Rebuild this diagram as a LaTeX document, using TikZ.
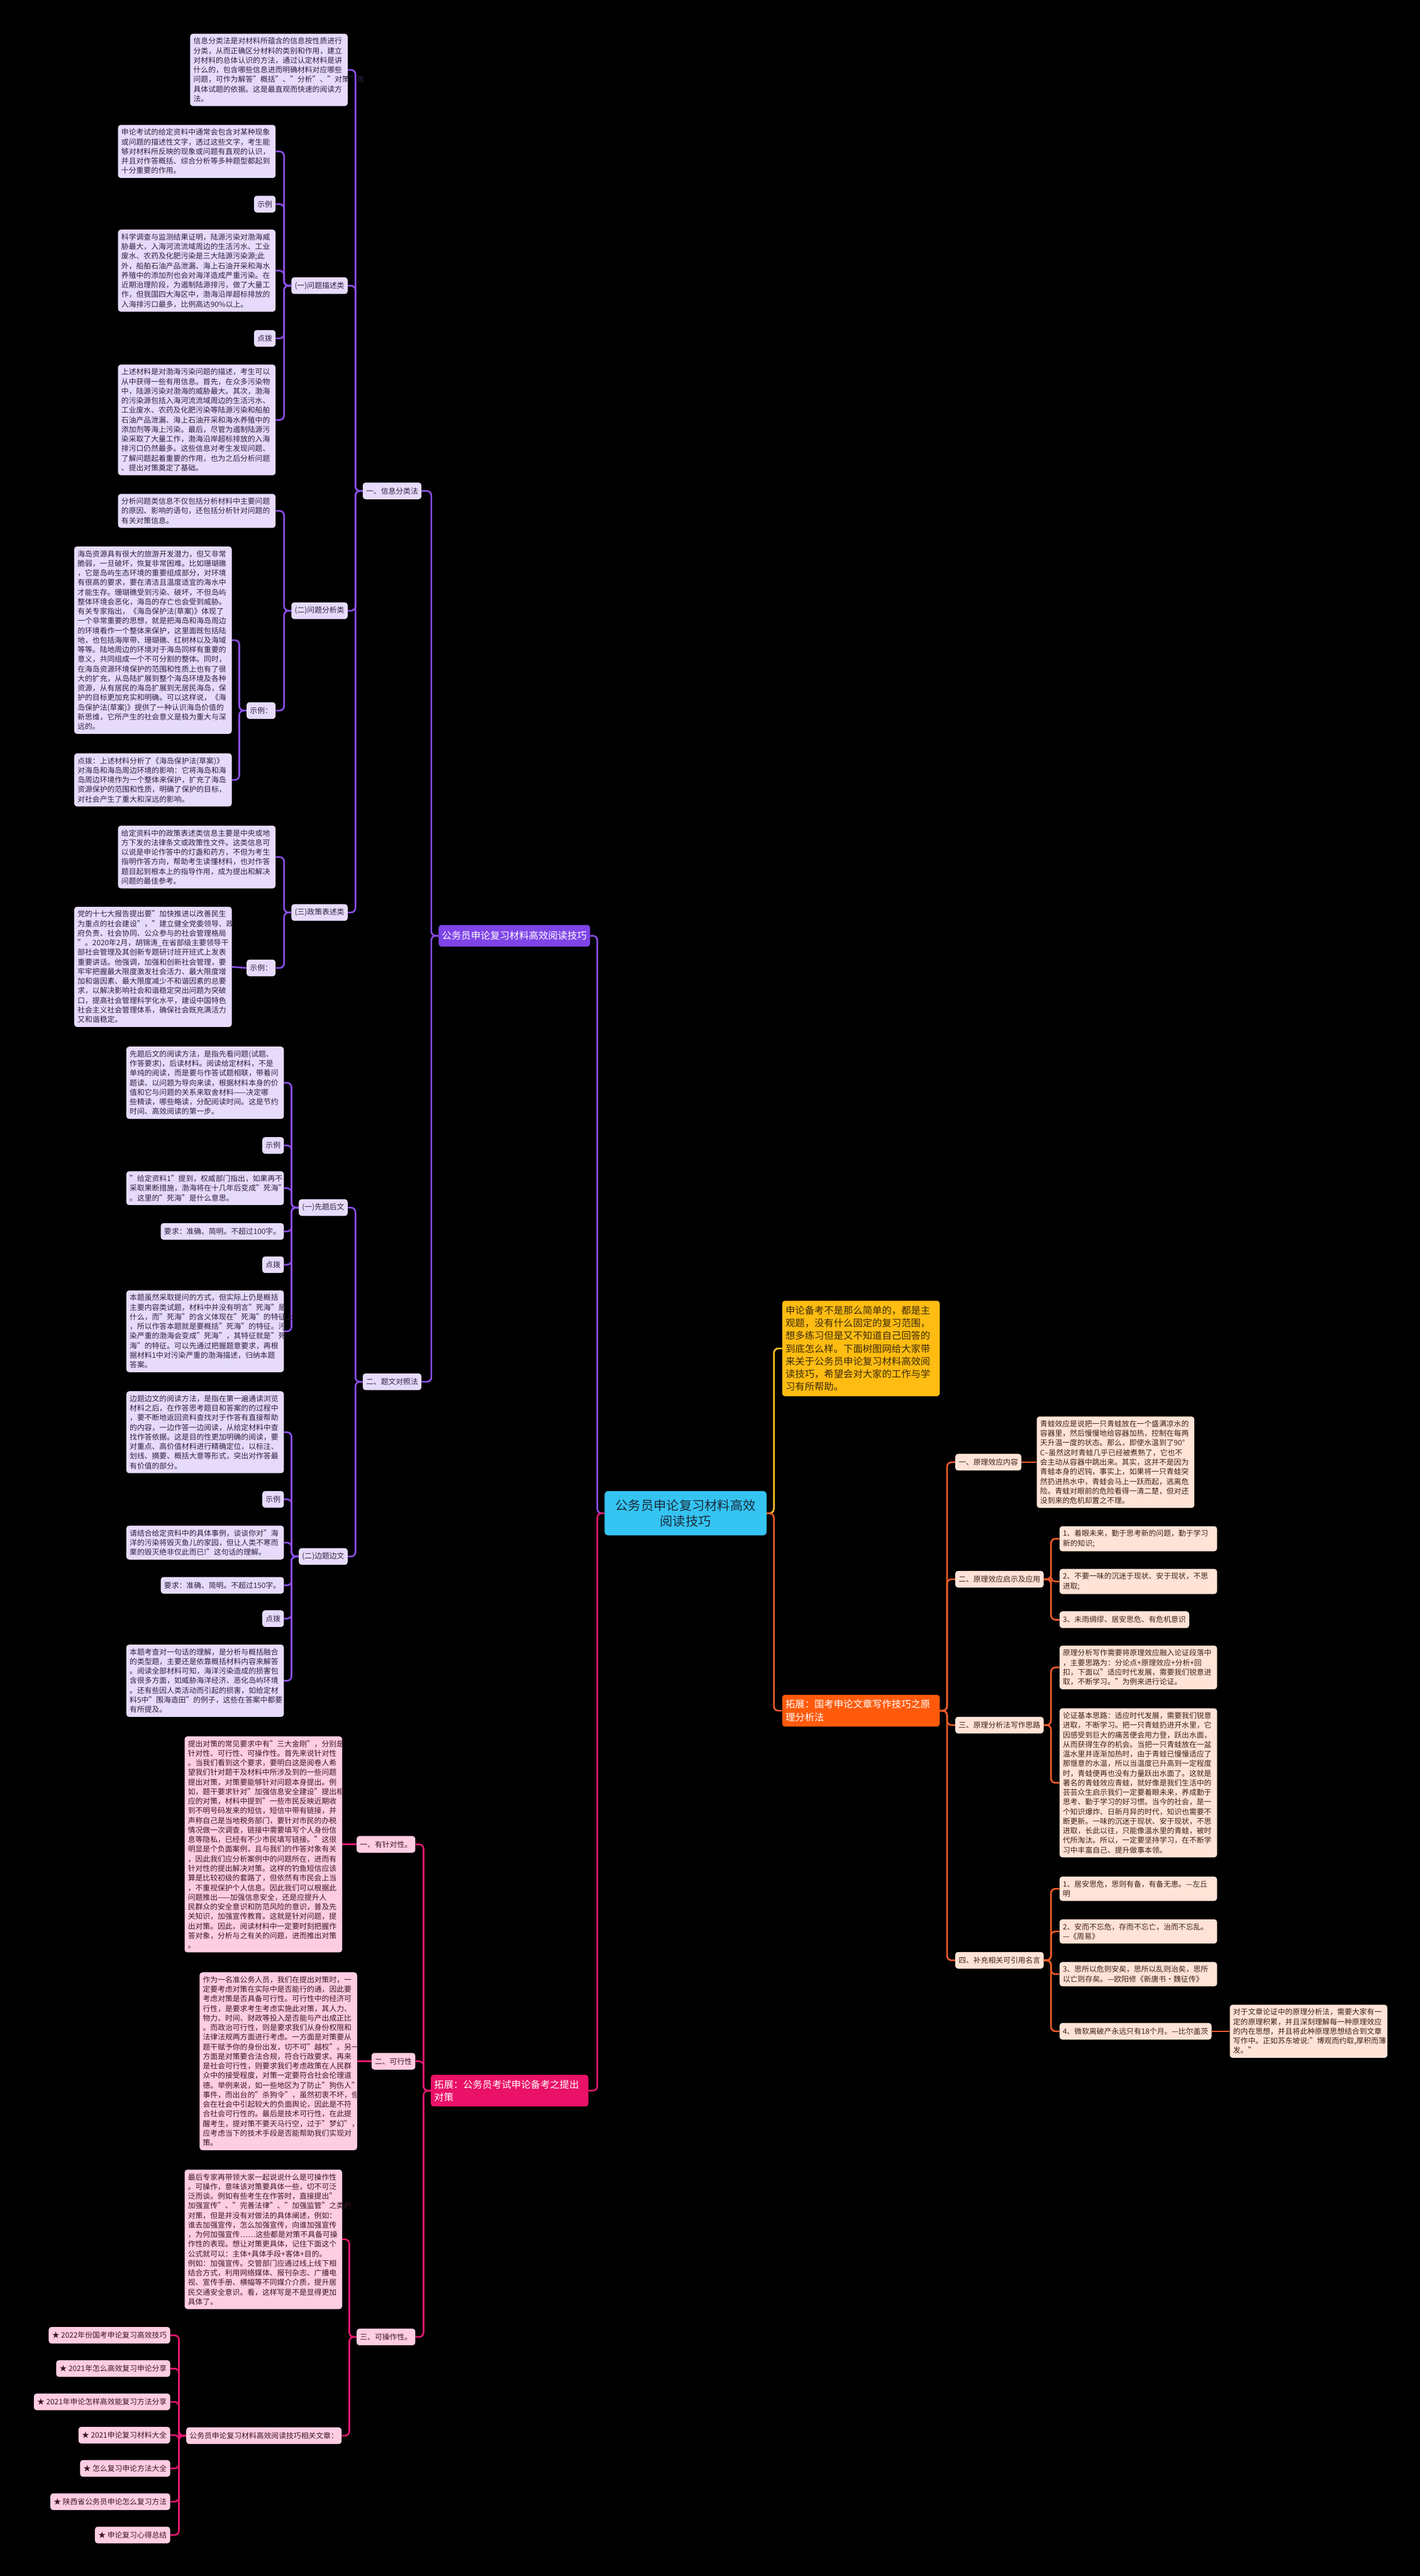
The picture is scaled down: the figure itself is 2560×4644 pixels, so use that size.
\documentclass[tikz,border=0pt]{standalone}
\usepackage{fontspec}
\setmainfont{Noto Sans CJK SC}
\usetikzlibrary{calc}
\pgfdeclarelayer{back}
\pgfdeclarelayer{lines}
\pgfsetlayers{back,lines,main}
\definecolor{pfill}{HTML}{E6DBFA}
\definecolor{ptext}{HTML}{2E2140}
\definecolor{pline}{HTML}{8B4FE6}
\definecolor{pmain}{HTML}{7E44E8}
\definecolor{kfill}{HTML}{FFCDE2}
\definecolor{ktext}{HTML}{3A1626}
\definecolor{kline}{HTML}{E3186F}
\definecolor{kmain}{HTML}{EA1168}
\definecolor{ofill}{HTML}{FFE3D6}
\definecolor{otext}{HTML}{3A2218}
\definecolor{oline}{HTML}{EB5B2A}
\definecolor{omain}{HTML}{FF5A0C}
\definecolor{yfill}{HTML}{FFBC12}
\definecolor{ytext}{HTML}{3A2A08}
\definecolor{yline}{HTML}{FFC425}
\definecolor{rootc}{HTML}{35C4F2}
\definecolor{roottext}{HTML}{1B2A3A}
\newcommand\myfs{\fontsize{13.4pt}{17.3pt}\selectfont}
\newcommand\myfm{\fontsize{17.4pt}{23pt}\selectfont}
\newcommand\myfr{\fontsize{23pt}{29pt}\selectfont}
\newcommand\lconn[3]{\draw[#1] (#2.west) -- ++(-13,0) |- (#3.east);}
\newcommand\rconn[3]{\draw[#1] (#2.east) -- ++(13,0) |- (#3.west);}
\tikzset{
 nbase/.style={rounded corners=5pt, inner xsep=6pt, inner ysep=7pt, font=\myfs},
 blk/.style={nbase, text width=272pt, align=left},
 lab/.style={nbase, minimum height=30pt, inner ysep=4pt},
 pu/.style={fill=pfill, text=ptext},
 pk/.style={fill=kfill, text=ktext},
 po/.style={fill=ofill, text=otext},
 conn/.style={line width=3pt, rounded corners=8pt},
 cp/.style={conn, draw=pline},
 ck/.style={conn, draw=kline},
 co/.style={conn, draw=oline},
 cy/.style={conn, draw=yline},
 bigbox/.style={nbase, inner ysep=9pt, font=\myfm, text width=272pt, align=left},
}
\begin{document}
\begin{tikzpicture}[x=1pt,y=-1pt]
\begin{pgfonlayer}{back}
\fill[black] (0,0) rectangle (2560,4644);
\end{pgfonlayer}
\useasboundingbox (0,0) rectangle (2560,4644);

% ---------- root ----------
\node[rounded corners=6pt, fill=rootc, text=roottext, font=\myfr, align=center, minimum width=292pt, minimum height=80pt] (R0) at (1236,2728) {公务员申论复习材料高效\\阅读技巧};

% ---------- purple branch ----------
\node[nbase, fill=pmain, text=white, font=\myfm, minimum height=39pt, anchor=east] (PM) at (1064,1687) {公务员申论复习材料高效阅读技巧};
\node[lab,pu,anchor=east] (L1) at (760,885) {一、信息分类法};
\node[lab,pu,anchor=east] (L2) at (760,2491) {二、题文对照法};

\node[blk,pu,anchor=east] (A1) at (627,126) {信息分类法是对材料所蕴含的信息按性质进行\\分类，从而正确区分材料的类别和作用，建立\\对材料的总体认识的方法，通过认定材料是讲\\什么的，包含哪些信息进而明确材料对应哪些\\问题，可作为解答"概括"、"分析"、"对策"等\\具体试题的依据。这是最直观而快速的阅读方\\法。};
\node[lab,pu,anchor=east] (Q1) at (627,515) {(一)问题描述类};
\node[blk,pu,anchor=east] (A2) at (497,273) {申论考试的给定资料中通常会包含对某种现象\\或问题的描述性文字，透过这些文字，考生能\\够对材料所反映的现象或问题有直观的认识，\\并且对作答概括、综合分析等多种题型都起到\\十分重要的作用。};
\node[lab,pu,anchor=east] (X1) at (497,368) {示例};
\node[blk,pu,anchor=east] (A3) at (497,488) {科学调查与监测结果证明，陆源污染对渤海威\\胁最大，入海河流流域周边的生活污水、工业\\废水、农药及化肥污染是三大陆源污染源;此\\外，船舶石油产品泄漏、海上石油开采和海水\\养殖中的添加剂也会对海洋造成严重污染。在\\近期治理阶段，为遏制陆源排污，做了大量工\\作，但我国四大海区中，渤海沿岸超标排放的\\入海排污口最多，比例高达90\%以上。};
\node[lab,pu,anchor=east] (T1) at (497,610) {点拨};
\node[blk,pu,anchor=east] (A4) at (497,757) {上述材料是对渤海污染问题的描述，考生可以\\从中获得一些有用信息。首先，在众多污染物\\中，陆源污染对渤海的威胁最大。其次，渤海\\的污染源包括入海河流流域周边的生活污水、\\工业废水、农药及化肥污染等陆源污染和船舶\\石油产品泄漏、海上石油开采和海水养殖中的\\添加剂等海上污染。最后，尽管为遏制陆源污\\染采取了大量工作，渤海沿岸超标排放的入海\\排污口仍然最多。这些信息对考生发现问题、\\了解问题起着重要的作用，也为之后分析问题\\、提出对策奠定了基础。};

\node[lab,pu,anchor=east] (Q2) at (627,1101) {(二)问题分析类};
\node[blk,pu,anchor=east] (B1) at (497,921) {分析问题类信息不仅包括分析材料中主要问题\\的原因、影响的语句，还包括分析针对问题的\\有关对策信息。};
\node[lab,pu,anchor=east] (X2) at (497,1281) {示例：};
\node[blk,pu,anchor=east] (B2) at (418,1154) {海岛资源具有很大的旅游开发潜力，但又非常\\脆弱，一旦破坏，恢复非常困难。比如珊瑚礁\\，它是岛屿生态环境的重要组成部分，对环境\\有很高的要求，要在清洁且温度适宜的海水中\\才能生存。珊瑚礁受到污染、破坏，不但岛屿\\整体环境会恶化，海岛的存亡也会受到威胁。\\有关专家指出，《海岛保护法(草案)》体现了\\一个非常重要的思想，就是把海岛和海岛周边\\的环境看作一个整体来保护，这里面既包括陆\\地，也包括海岸带、珊瑚礁、红树林以及海域\\等等。陆地周边的环境对于海岛同样有重要的\\意义，共同组成一个不可分割的整体。同时，\\在海岛资源环境保护的范围和性质上也有了很\\大的扩充，从岛陆扩展到整个海岛环境及各种\\资源，从有居民的海岛扩展到无居民海岛，保\\护的目标更加充实和明确。可以这样说，《海\\岛保护法(草案)》提供了一种认识海岛价值的\\新思维，它所产生的社会意义是极为重大与深\\远的。};
\node[blk,pu,anchor=east] (B3) at (418,1406) {点拨：上述材料分析了《海岛保护法(草案)》\\对海岛和海岛周边环境的影响：它将海岛和海\\岛周边环境作为一个整体来保护，扩充了海岛\\资源保护的范围和性质，明确了保护的目标，\\对社会产生了重大和深远的影响。};

\node[lab,pu,anchor=east] (Q3) at (627,1645) {(三)政策表述类};
\node[blk,pu,anchor=east] (B4) at (497,1545) {给定资料中的政策表述类信息主要是中央或地\\方下发的法律条文或政策性文件。这类信息可\\以说是申论作答中的灯盏和药方，不但为考生\\指明作答方向，帮助考生读懂材料，也对作答\\题目起到根本上的指导作用，成为提出和解决\\问题的最佳参考。};
\node[lab,pu,anchor=east] (X3) at (497,1745) {示例：};
\node[blk,pu,anchor=east] (B5) at (418,1743) {党的十七大报告提出要"加快推进以改善民生\\为重点的社会建设"，"建立健全党委领导、政\\府负责、社会协同、公众参与的社会管理格局\\"。2020年2月，胡锦涛\_在省部级主要领导干\\部社会管理及其创新专题研讨班开班式上发表\\重要讲话。他强调，加强和创新社会管理，要\\牢牢把握最大限度激发社会活力、最大限度增\\加和谐因素、最大限度减少不和谐因素的总要\\求，以解决影响社会和谐稳定突出问题为突破\\口，提高社会管理科学化水平，建设中国特色\\社会主义社会管理体系，确保社会既充满活力\\又和谐稳定。};

\node[lab,pu,anchor=east] (Q4) at (627,2177) {(一)先题后文};
\node[blk,pu,anchor=east] (C1) at (512,1952) {先题后文的阅读方法，是指先看问题(试题、\\作答要求)，后读材料。阅读给定材料，不是\\单纯的阅读，而是要与作答试题相联，带着问\\题读、以问题为导向来读，根据材料本身的价\\值和它与问题的关系来取舍材料——决定哪\\些精读，哪些略读，分配阅读时间。这是节约\\时间、高效阅读的第一步。};
\node[lab,pu,anchor=east] (X4) at (512,2065) {示例};
\node[blk,pu,anchor=east] (C2) at (512,2142) {"给定资料1"提到，权威部门指出，如果再不\\采取果断措施，渤海将在十几年后变成"死海"\\。这里的"死海"是什么意思。};
\node[lab,pu,anchor=east] (U1) at (512,2220) {要求：准确、简明。不超过100字。};
\node[lab,pu,anchor=east] (T4) at (512,2280) {点拨};
\node[blk,pu,anchor=east] (C3) at (512,2400) {本题虽然采取提问的方式，但实际上仍是概括\\主要内容类试题，材料中并没有明言"死海"是\\什么，而"死海"的含义体现在"死海"的特征上\\，所以作答本题就是要概括"死海"的特征。污\\染严重的渤海会变成"死海"，其特征就是"死\\海"的特征。可以先通过把握题意要求，再根\\据材料1中对污染严重的渤海描述，归纳本题\\答案。};

\node[lab,pu,anchor=east] (Q5) at (627,2806) {(二)边题边文};
\node[blk,pu,anchor=east] (D1) at (512,2582) {边题边文的阅读方法，是指在第一遍通读浏览\\材料之后，在作答思考题目和答案的的过程中\\，要不断地返回资料查找对于作答有直接帮助\\的内容，一边作答一边阅读，从给定材料中查\\找作答依据。这是目的性更加明确的阅读，要\\对重点、高价值材料进行精确定位，以标注、\\划线、摘要、概括大意等形式，突出对作答最\\有价值的部分。};
\node[lab,pu,anchor=east] (X5) at (512,2703) {示例};
\node[blk,pu,anchor=east] (D2) at (512,2781) {请结合给定资料中的具体事例，谈谈你对"海\\洋的污染将毁灭鱼儿的家园，但让人类不寒而\\栗的毁灭绝非仅此而已!"这句话的理解。};
\node[lab,pu,anchor=east] (U2) at (512,2858) {要求：准确、简明。不超过150字。};
\node[lab,pu,anchor=east] (T5) at (512,2918) {点拨};
\node[blk,pu,anchor=east] (D3) at (512,3030) {本题考查对一句话的理解，是分析与概括融合\\的类型题，主要还是依靠概括材料内容来解答\\。阅读全部材料可知，海洋污染造成的损害包\\含很多方面，如威胁海洋经济、恶化岛屿环境\\。还有些因人类活动而引起的损害，如给定材\\料5中"围海造田"的例子，这些在答案中都要\\有所提及。};

% ---------- pink branch ----------
\node[bigbox, fill=kmain, text=white, anchor=east] (PK) at (1061,3769) {拓展：公务员考试申论备考之提出\\对策};
\node[lab,pk,anchor=east] (K1) at (749,3325) {一、有针对性。};
\node[lab,pk,anchor=east] (K2) at (749,3716) {二、可行性};
\node[lab,pk,anchor=east] (K3) at (749,4213) {三、可操作性。};
\node[blk,pk,anchor=east] (E1) at (617,3325) {提出对策的常见要求中有"三大金刚"，分别是\\针对性、可行性、可操作性。首先来说针对性\\。当我们看到这个要求，要明白这是阅卷人希\\望我们针对题干及材料中所涉及到的一些问题\\提出对策，对策要能够针对问题本身提出。例\\如，题干要求针对"加强信息安全建设"提出相\\应的对策，材料中提到"一些市民反映近期收\\到不明号码发来的短信，短信中带有链接，并\\声称自己是当地税务部门，要针对市民的办税\\情况做一次调查，链接中需要填写个人身份信\\息等隐私，已经有不少市民填写链接。"这很\\明显是个负面案例，且与我们的作答对象有关\\，因此我们应分析案例中的问题所在，进而有\\针对性的提出解决对策。这样的钓鱼短信应该\\算是比较初级的套路了，但依然有市民会上当\\，不重视保护个人信息。因此我们可以根据此\\问题推出——加强信息安全，还是应提升人\\民群众的安全意识和防范风险的意识，普及先\\关知识，加强宣传教育。这就是针对问题，提\\出对策。因此，阅读材料中一定要时刻把握作\\答对象，分析与之有关的问题，进而推出对策\\。};
\node[blk,pk,anchor=east] (E2) at (644,3716) {作为一名准公务人员，我们在提出对策时，一\\定要考虑对策在实际中是否能行的通，因此要\\考虑对策是否具备可行性。可行性中的经济可\\行性，是要求考生考虑实施此对策，其人力、\\物力、时间、财政等投入是否能与产出成正比\\。而政治可行性，则是要求我们从身份权限和\\法律法规两方面进行考虑。一方面是对策要从\\题干赋予你的身份出发，切不可"越权"。另一\\方面是对策要合法合规，符合行政要求。再来\\是社会可行性，则要求我们考虑政策在人民群\\众中的接受程度，对策一定要符合社会伦理道\\德。举例来说，如一些地区为了防止"狗伤人"\\事件，而出台的"杀狗令"，虽然初衷不坏，但\\会在社会中引起较大的负面舆论，因此是不符\\合社会可行性的。最后是技术可行性，在此提\\醒考生，提对策不要天马行空，过于"梦幻"，\\应考虑当下的技术手段是否能帮助我们实现对\\策。};
\node[blk,pk,anchor=east] (E3) at (617,4037) {最后专家再带领大家一起说说什么是可操作性\\。可操作，意味该对策要具体一些，切不可泛\\泛而谈。例如有些考生在作答时，直接提出"\\加强宣传"、"完善法律"、"加强监管"之类的\\对策，但是并没有对做法的具体阐述，例如：\\谁去加强宣传，怎么加强宣传，向谁加强宣传\\，为何加强宣传……这些都是对策不具备可操\\作性的表现。想让对策更具体，记住下面这个\\公式就可以：主体+具体手段+客体+目的。\\例如：加强宣传。交管部门应通过线上线下相\\结合方式，利用网络媒体、报刊杂志、广播电\\视、宣传手册、横幅等不同媒介介质，提升居\\民交通安全意识。看，这样写是不是显得更加\\具体了。};
\node[lab,pk,anchor=east] (RA) at (616,4391) {公务员申论复习材料高效阅读技巧相关文章：};
\node[lab,pk,anchor=east] (I1) at (307,4210) {★ 2022年份国考申论复习高效技巧};
\node[lab,pk,anchor=east] (I2) at (307,4270) {★ 2021年怎么高效复习申论分享};
\node[lab,pk,anchor=east] (I3) at (307,4330) {★ 2021年申论怎样高效能复习方法分享};
\node[lab,pk,anchor=east] (I4) at (307,4390) {★ 2021申论复习材料大全};
\node[lab,pk,anchor=east] (I5) at (307,4450) {★ 怎么复习申论方法大全};
\node[lab,pk,anchor=east] (I6) at (307,4510) {★ 陕西省公务员申论怎么复习方法};
\node[lab,pk,anchor=east] (I7) at (307,4570) {★ 申论复习心得总结};

% ---------- right side ----------
\node[bigbox, fill=yfill, text=ytext, anchor=west] (Y) at (1410,2431) {申论备考不是那么简单的，都是主\\观题，没有什么固定的复习范围，\\想多练习但是又不知道自己回答的\\到底怎么样。下面树图网给大家带\\来关于公务员申论复习材料高效阅\\读技巧，希望会对大家的工作与学\\习有所帮助。};
\node[bigbox, fill=omain, text=white, anchor=west] (O) at (1410,3084) {拓展：国考申论文章写作技巧之原\\理分析法};
\node[lab,po,anchor=west] (M1) at (1722,2636) {一、原理效应内容};
\node[lab,po,anchor=west] (M2) at (1722,2847) {二、原理效应启示及应用};
\node[lab,po,anchor=west] (M3) at (1722,3110) {三、原理分析法写作思路};
\node[lab,po,anchor=west] (M4) at (1722,3534) {四、补充相关可引用名言};
\node[blk,po,anchor=west] (F1) at (1869,2636) {青蛙效应是说把一只青蛙放在一个盛满凉水的\\容器里，然后慢慢地给容器加热，控制在每两\\天升温一度的状态。那么，即使水温到了90°\\C--虽然这时青蛙几乎已经被煮熟了，它也不\\会主动从容器中跳出来。其实，这并不是因为\\青蛙本身的迟钝，事实上，如果将一只青蛙突\\然扔进热水中，青蛙会马上一跃而起，逃离危\\险。青蛙对眼前的危险看得一清二楚，但对还\\没到来的危机却置之不理。};
\node[blk,po,anchor=west] (F2a) at (1910,2774) {1、着眼未来，勤于思考新的问题，勤于学习\\新的知识;};
\node[blk,po,anchor=west] (F2b) at (1910,2851) {2、不要一味的沉迷于现状、安于现状，不思\\进取;};
\node[lab,po,anchor=west] (F2c) at (1910,2920) {3、未雨绸缪、居安思危、有危机意识};
\node[blk,po,anchor=west] (F3a) at (1910,3006) {原理分析写作需要将原理效应融入论证段落中\\，主要思路为：分论点+原理效应+分析+回\\扣，下面以"适应时代发展，需要我们锐意进\\取，不断学习。"为例来进行论证。};
\node[blk,po,anchor=west] (F3b) at (1910,3214) {论证基本思路：适应时代发展，需要我们锐意\\进取，不断学习。把一只青蛙扔进开水里，它\\因感受到巨大的痛苦便会用力登，跃出水面，\\从而获得生存的机会。当把一只青蛙放在一盆\\温水里并逐渐加热时，由于青蛙已慢慢适应了\\那惬意的水温，所以当温度已升高到一定程度\\时，青蛙便再也没有力量跃出水面了。这就是\\著名的青蛙效应青蛙，就好像是我们生活中的\\芸芸众生启示我们一定要着眼未来，养成勤于\\思考、勤于学习的好习惯。当今的社会，是一\\个知识爆炸、日新月异的时代，知识也需要不\\断更新。一味的沉迷于现状、安于现状，不思\\进取，长此以往，只能像温水里的青蛙，被时\\代所淘汰。所以，一定要坚持学习，在不断学\\习中丰富自己、提升做事本领。};
\node[blk,po,anchor=west] (G1) at (1910,3405) {1、居安思危，思则有备，有备无患。—左丘\\明};
\node[blk,po,anchor=west] (G2) at (1910,3482) {2、安而不忘危，存而不忘亡，治而不忘乱。\\—《周易》};
\node[blk,po,anchor=west] (G3) at (1910,3559) {3、思所以危则安矣，思所以乱则治矣，思所\\以亡则存矣。—欧阳修《新唐书·魏征传》};
\node[lab,po,anchor=west] (G4) at (1910,3662) {4、微软离破产永远只有18个月。—比尔盖茨};
\node[blk,po,anchor=west] (H) at (2217,3662) {对于文章论证中的原理分析法，需要大家有一\\定的原理积累，并且深刻理解每一种原理效应\\的内在思想，并且将此种原理思想结合到文章\\写作中。正如苏东坡说:"博观而约取,厚积而薄\\发。"};

% ---------- connectors ----------
\begin{pgfonlayer}{lines}
\lconn{cp}{R0}{PM}
\lconn{ck}{R0}{PK}
\rconn{cy}{R0}{Y}
\rconn{co}{R0}{O}
\foreach \c in {L1,L2} {\lconn{cp}{PM}{\c}}
\foreach \c in {A1,Q1,Q2,Q3} {\lconn{cp}{L1}{\c}}
\foreach \c in {A2,X1,A3,T1,A4} {\lconn{cp}{Q1}{\c}}
\foreach \c in {B1,X2} {\lconn{cp}{Q2}{\c}}
\foreach \c in {B2,B3} {\lconn{cp}{X2}{\c}}
\foreach \c in {B4,X3} {\lconn{cp}{Q3}{\c}}
\draw[cp] (X3.west) -- (B5.east);
\foreach \c in {Q4,Q5} {\lconn{cp}{L2}{\c}}
\foreach \c in {C1,X4,C2,U1,T4,C3} {\lconn{cp}{Q4}{\c}}
\foreach \c in {D1,X5,D2,U2,T5,D3} {\lconn{cp}{Q5}{\c}}
\foreach \c in {K1,K2,K3} {\lconn{ck}{PK}{\c}}
\draw[ck] (K1.west) -- (E1.east);
\draw[ck] (K2.west) -- (E2.east);
\foreach \c in {E3,RA} {\lconn{ck}{K3}{\c}}
\foreach \c in {I1,I2,I3,I4,I5,I6,I7} {\lconn{ck}{RA}{\c}}
\foreach \c in {M1,M2,M3,M4} {\rconn{co}{O}{\c}}
\draw[co] (M1.east) -- (F1.west);
\foreach \c in {F2a,F2b,F2c} {\rconn{co}{M2}{\c}}
\foreach \c in {F3a,F3b} {\rconn{co}{M3}{\c}}
\foreach \c in {G1,G2,G3,G4} {\rconn{co}{M4}{\c}}
\draw[co] (G4.east) -- (H.west);
\end{pgfonlayer}
\end{tikzpicture}
\end{document}
